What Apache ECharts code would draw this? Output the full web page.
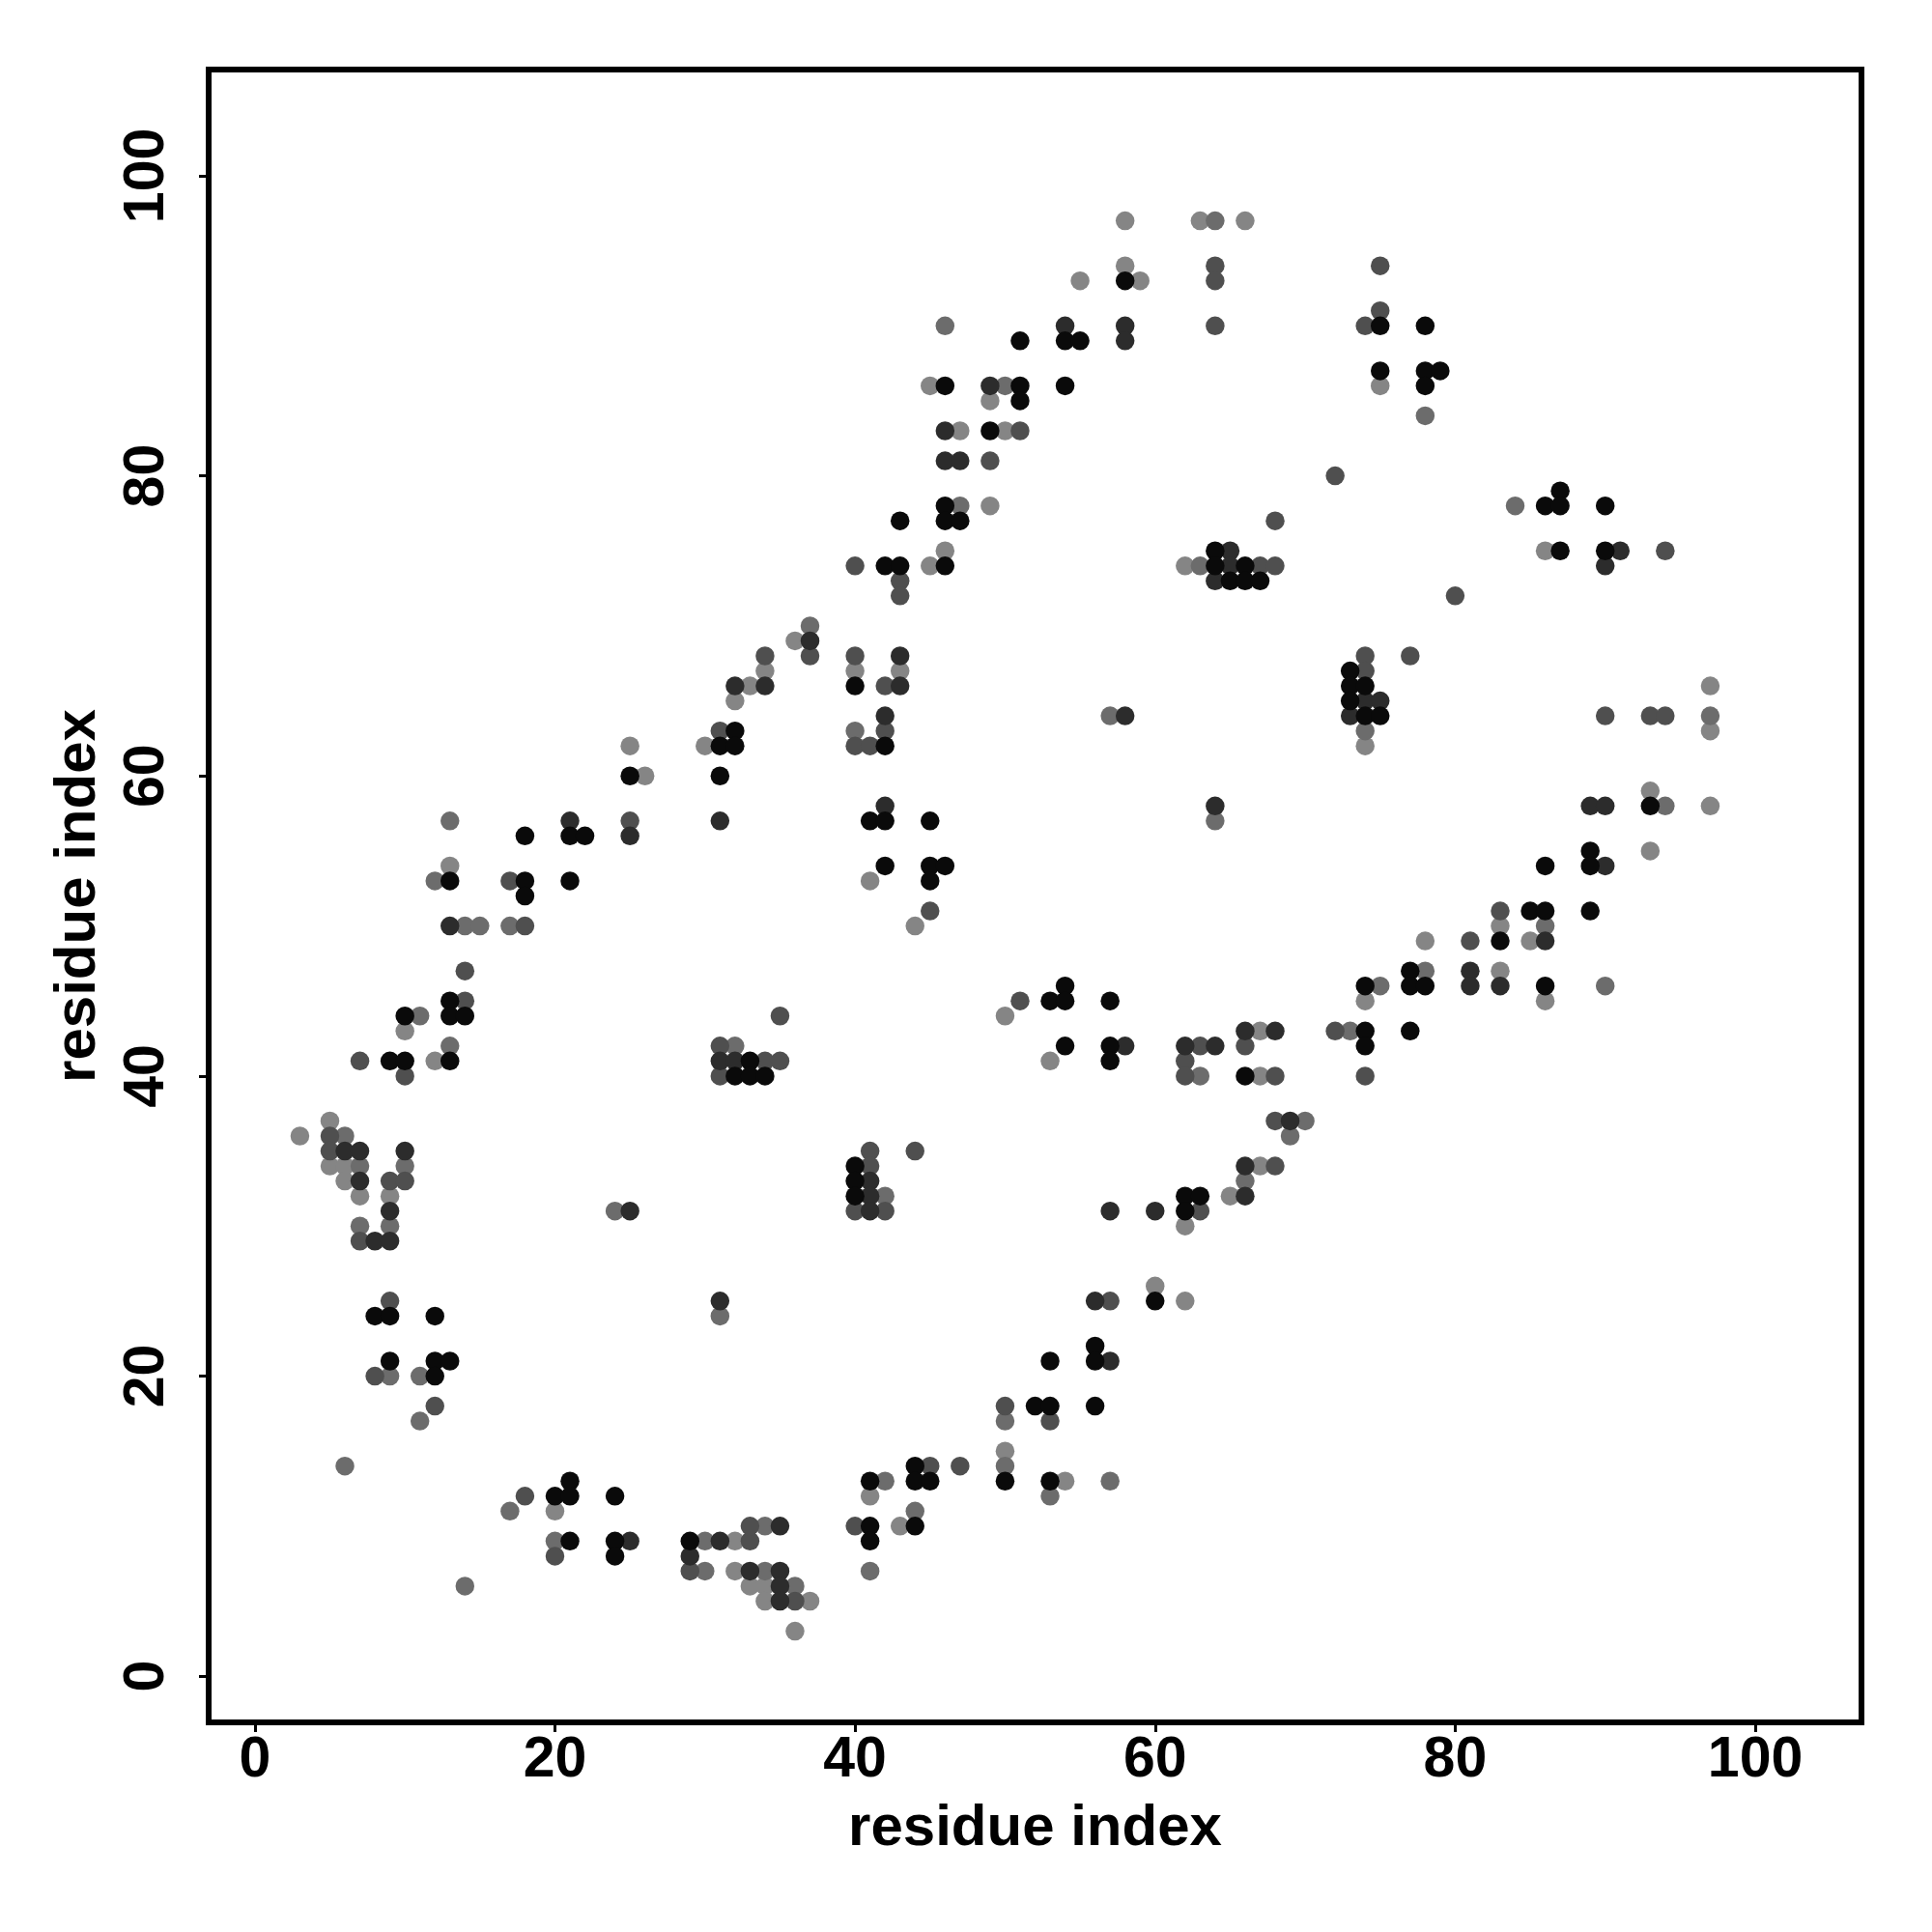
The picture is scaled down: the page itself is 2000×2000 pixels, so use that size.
<!DOCTYPE html>
<html><head><meta charset="utf-8">
<script src="https://cdn.jsdelivr.net/npm/echarts@6/dist/echarts.min.js"></script>
<style>html,body{margin:0;padding:0;background:#fff}#c{width:2000px;height:2000px}</style>
</head><body><div id="c"></div>
<script>
const xTicks = [0, 20, 40, 60, 80, 100];
const yTicks = [0, 20, 40, 60, 80, 100];
const axisTitle = 'residue index';

// black points
const shadeK = [
 [58,93],[51,89],[54,89],[55,89],[46,86],[51,86],[51,85],[54,86],[49,83],[46,78],[46,77],[47,77],[43,77],
 [75,90],[78,90],[75,87],[78,87],[79,87],[78,86],[86,78],[87,79],[87,78],[90,78],
 [32,63],[31,62],[32,62],[31,60],[25,60],[18,56],[21,56],[22,56],[13,53],[18,53],[18,52],[21,53],
 [42,74],[43,74],[46,74],[40,66],[42,62],[64,75],[64,74],[66,74],[65,73],[66,73],[41,57],[42,57],[45,57],[42,54],[45,54],[46,54],[45,53],
 [67,73],[87,75],[90,75],[73,67],[73,66],[74,66],[73,65],[74,64],[75,64],[93,58],[89,55],[86,54],[89,54],[85,51],[86,51],[89,51],
 [13,45],[13,44],[14,44],[10,44],[13,41],[9,41],[10,41],[32,40],
 [33,41],[33,40],[34,40],[53,45],[54,46],[54,45],[57,45],[54,42],[57,42],[57,41],[66,40],[40,34],[40,33],[40,32],[62,32],[63,32],[62,31],
 [83,49],[77,47],[74,46],[77,46],[78,46],[86,46],[74,43],[77,43],[74,42],
 [8,24],[9,24],[12,24],[9,21],[12,21],[13,21],[12,20],[21,13],[20,12],[21,12],[24,12],[21,9],[24,9],[24,8],[29,9],
 [60,25],[56,22],[53,21],[56,21],[52,18],[53,18],[56,18],[50,13],[53,13],[44,14],[44,13],[45,13],[41,13],[41,10],[44,10],[41,9]
];
// dark grey points
const shadeD = [
 [54,90],[58,90],[58,89],[49,86],[46,83],[46,81],[47,81],
 [32,66],[31,57],[21,57],[25,56],
 [37,69],[34,66],[43,68],[43,66],[42,64],[58,64],[65,75],[65,74],[64,73],[42,58],[64,58],
 [91,75],[90,74],[74,65],[75,65],[73,64],[89,58],[90,58],[90,54],
 [13,50],[31,41],[32,41],[6,35],[7,35],[10,35],[7,33],[9,31],[8,29],[9,29],[25,31],
 [58,42],[62,42],[64,42],[66,43],[41,33],[41,32],[41,31],[57,31],[60,31],[66,34],[66,32],
 [86,49],[81,47],[81,46],[83,46],[68,43],[69,37],
 [25,9],[31,9],[29,8],[33,7],[31,25],
 [56,25],[57,21],[35,10],[35,7],[35,6],[35,5]
];
// medium grey points
const shadeM = [
 [64,94],[64,93],[64,90],[51,83],[49,81],
 [75,94],[75,91],[74,90],[72,80],[68,77],
 [31,63],[25,57],[17,53],
 [40,74],[43,73],[43,72],[37,68],[34,68],[40,68],[42,66],[42,63],[40,62],[41,62],[45,51],
 [67,74],[68,74],[80,72],[94,75],[74,68],[77,68],[74,67],[90,64],[93,64],[94,64],[83,51],
 [18,50],[14,47],[14,45],[7,41],[10,40],[31,42],[31,40],[5,36],[5,35],[9,33],[10,33],[7,29],
 [35,44],[34,41],[35,41],[51,45],[63,42],[62,41],[62,40],[66,42],[41,35],[44,35],[41,34],[40,31],[42,31],[63,31],
 [81,49],[72,43],[68,40],[74,40],[68,37],[68,34],
 [9,25],[8,20],[12,18],[18,12],[20,8],[33,9],[33,10],[29,7],
 [57,25],[50,18],[53,17],[45,14],[47,14],[40,10],[36,5]
];
// grey points
const shadeG = [
 [64,97],[46,90],[50,86],[47,78],
 [78,84],[84,78],
 [13,57],[12,53],
 [37,70],[40,63],[57,64],[63,74],[64,57],
 [74,63],[97,64],[94,58],
 [14,50],[15,50],[17,50],[11,44],[13,42],[32,42],[6,36],[7,34],[10,34],[7,30],[9,30],[24,31],
 [63,40],[42,32],[66,33],
 [86,50],[78,47],[75,46],[90,46],[73,43],[70,37],[69,36],
 [9,20],[11,20],[11,17],[6,14],[14,6],[17,11],[20,9],[30,9],[30,7],[31,24],
 [50,17],[50,14],[53,12],[57,13],[42,13],[44,11],[41,7],[34,10],[34,7],[36,6]
];
// light grey points
const shadeL = [
 [58,97],[63,97],[66,97],[58,94],[59,93],[55,93],[45,86],[49,85],[47,83],[50,83],[49,78],
 [75,86],
 [33,66],[32,65],[30,62],[25,62],[26,60],[13,54],
 [46,75],[45,74],[36,69],[34,67],[40,67],[43,67],[62,74],[41,53],
 [86,75],[74,62],[97,66],[97,63],[93,59],[97,58],[93,55],
 [10,43],[12,41],[5,37],[3,36],[5,34],[6,34],[6,33],[7,32],[9,32],
 [44,50],[50,44],[53,41],[62,30],[65,32],[60,26],
 [83,50],[78,49],[85,49],[83,47],[74,45],[86,45],[67,43],[67,40],[67,34],
 [20,11],[32,9],[32,7],[33,6],
 [62,25],[50,15],[54,13],[41,12],[43,10],[34,6],[34,5],[37,5],[36,3]
];

const font = "'Liberation Sans', Arial, Helvetica, sans-serif";
const chart = echarts.init(document.getElementById('c'), null, {renderer: 'canvas'});
const mk = (name, data, color) => ({
  name, type: 'scatter', data, symbol: 'circle', symbolSize: 19.5,
  itemStyle: {color: color, opacity: 1, borderWidth: 0}, silent: true
});
const labelStyle = {fontFamily: font, fontWeight: 'bold', fontSize: 59, color: '#000'};
chart.setOption({
  animation: false,
  backgroundColor: '#ffffff',
  grid: {left: 216, top: 72, width: 1711, height: 1711, show: true,
         borderColor: '#000', borderWidth: 6, backgroundColor: 'transparent'},
  xAxis: {
    type: 'value', min: -3.08, max: 107.08,
    name: axisTitle, nameLocation: 'middle', nameGap: 80,
    nameTextStyle: {fontFamily: font, fontWeight: 'bold', fontSize: 60, color: '#000'},
    axisLine: {show: false, onZero: false}, splitLine: {show: false},
    axisTick: {show: true, inside: false, length: 10, lineStyle: {color: '#000', width: 3}, customValues: xTicks},
    axisLabel: Object.assign({margin: 10, customValues: xTicks}, labelStyle)
  },
  yAxis: {
    type: 'value', min: -3.08, max: 107.08,
    name: axisTitle, nameLocation: 'middle', nameGap: 105,
    nameTextStyle: {fontFamily: font, fontWeight: 'bold', fontSize: 60, color: '#000'},
    axisLine: {show: false, onZero: false}, splitLine: {show: false},
    axisTick: {show: true, inside: false, length: 10, lineStyle: {color: '#000', width: 3}, customValues: yTicks},
    axisLabel: Object.assign({margin: 34, rotate: 90, customValues: yTicks}, labelStyle)
  },
  series: [
    mk('light', shadeL, '#858585'),
    mk('grey', shadeG, '#6c6c6c'),
    mk('medium', shadeM, '#4f4f4f'),
    mk('dark', shadeD, '#2c2c2c'),
    mk('black', shadeK, '#0a0a0a')
  ]
});
</script>
</body></html>
